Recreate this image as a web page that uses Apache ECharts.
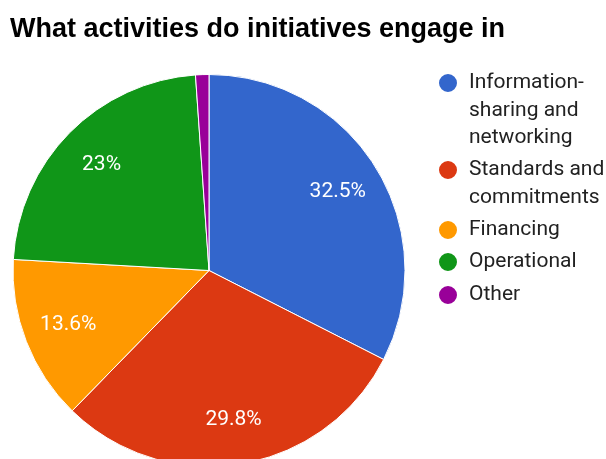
<!DOCTYPE html>
<html>
<head>
<meta charset="utf-8">
<script src="https://cdn.jsdelivr.net/npm/echarts@6/dist/echarts.min.js"></script>
<style>
  html, body { margin: 0; padding: 0; background: #fff; }
  #chart { width: 606px; height: 459px; }
</style>
</head>
<body>
<div id="chart"></div>
<script>
// Activity categories and their share of initiatives (percent)
const categories = [
  'Information-sharing and networking',
  'Standards and commitments',
  'Financing',
  'Operational',
  'Other'
];
const shares = [32.5, 29.8, 13.6, 23, 1.1];
// Legend text, wrapped the way it is shown beside the pie
const legendLines = [
  ['Information-', 'sharing and', 'networking'],
  ['Standards and', 'commitments'],
  ['Financing'],
  ['Operational'],
  ['Other']
];
const colors = ['#3366cc', '#dc3912', '#ff9900', '#109618', '#990099'];

const titleText = 'What activities do initiatives engage in';

const center = [209, 270.5];
const outerRadius = 196;
const lineH = 27.5;
// vertical centre of each legend marker
const legendRows = [83, 170, 230, 262, 295];

const pieData = categories.map((name, i) => ({
  name: name,
  value: shares[i],
  itemStyle: { color: colors[i] }
}));

// One legend block per entry. Legend text is centred on its marker, so blank
// lines are put in front of a wrapped entry to keep the marker on its first line.
const legends = categories.map((name, i) => {
  const n = legendLines[i].length;
  const boxHalf = lineH * (2 * n - 1) / 2;
  const text = new Array(n - 1).fill('').concat(legendLines[i]).join('\n');
  return {
    orient: 'vertical',
    left: 437,
    top: legendRows[i] - boxHalf,
    padding: 0,
    itemWidth: 32,
    itemHeight: 20,
    icon: 'circle',
    selectedMode: false,
    data: [name],
    formatter: () => text,
    textStyle: {
      fontFamily: 'Roboto',
      fontSize: 21,
      color: '#222222',
      lineHeight: lineH
    }
  };
});

const chart = echarts.init(document.getElementById('chart'), null, { renderer: 'canvas' });
chart.setOption({
  animation: false,
  color: colors,
  title: {
    text: titleText,
    left: 10,
    top: 16,
    padding: 0,
    textStyle: {
      fontFamily: 'Liberation Sans',
      fontWeight: 'bold',
      fontSize: 27,
      lineHeight: 27,
      color: '#000000'
    }
  },
  legend: legends,
  series: [
    {
      type: 'pie',
      center: center,
      radius: [0, outerRadius],
      startAngle: 90,
      clockwise: true,
      avoidLabelOverlap: false,
      silent: true,
      label: { show: false },
      labelLine: { show: false },
      itemStyle: { borderColor: '#ffffff', borderWidth: 1 },
      emphasis: { disabled: true },
      data: pieData
    },
    {
      // transparent ring carrying the percentage labels further out from the centre
      type: 'pie',
      center: center,
      radius: [100, outerRadius],
      startAngle: 90,
      clockwise: true,
      avoidLabelOverlap: false,
      silent: true,
      itemStyle: { color: 'rgba(0,0,0,0)', borderWidth: 0 },
      emphasis: { disabled: true },
      labelLine: { show: false },
      label: {
        show: true,
        position: 'inside',
        fontFamily: 'Roboto',
        fontSize: 21,
        color: '#ffffff',
        formatter: p => (p.value < 5 ? '' : p.value + '%')
      },
      data: categories.map((name, i) => ({ name: name, value: shares[i] }))
    }
  ]
});
</script>
</body>
</html>
